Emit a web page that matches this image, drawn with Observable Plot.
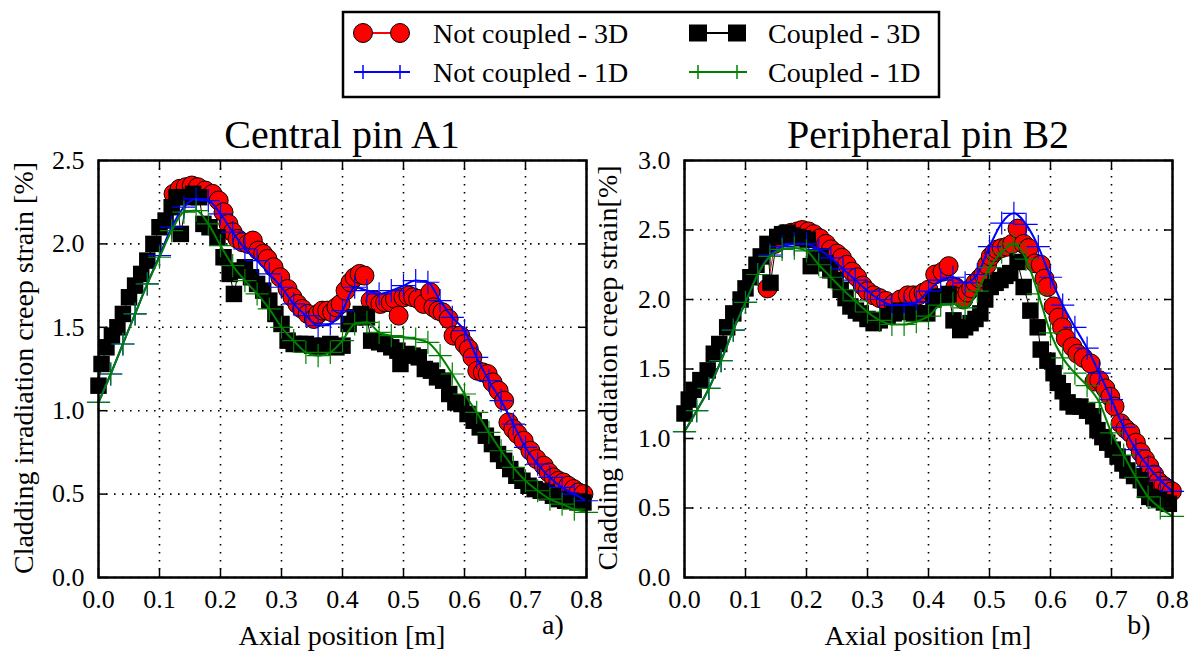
<!DOCTYPE html>
<html><head><meta charset="utf-8">
<script src="https://cdn.jsdelivr.net/npm/d3@7"></script>
<script src="https://cdn.jsdelivr.net/npm/@observablehq/plot@0.6"></script>
<style>
body{margin:0;background:#fff;}
#wrap{position:relative;width:1200px;height:655px;overflow:hidden;font-family:"Liberation Serif","Times New Roman",serif;color:#000;}
.abs{position:absolute;white-space:nowrap;line-height:1;}
</style></head><body><div id="wrap"></div>
<script>
// ---------- tick values ----------
const xTicks = [0, 0.1, 0.2, 0.3, 0.4, 0.5, 0.6, 0.7, 0.8];
const yTicksA1 = [0, 0.5, 1.0, 1.5, 2.0, 2.5];
const yTicksB2 = [0, 0.5, 1.0, 1.5, 2.0, 2.5, 3.0];

// ---------- Central pin A1 ----------
const A1_notCoupled3D = [[0.123,2.30],[0.133,2.33],[0.143,2.34],[0.153,2.35],[0.163,2.34],[0.175,2.32],[0.187,2.30],[0.197,2.26],[0.205,2.19],[0.213,2.12],[0.220,2.07],[0.228,2.03],[0.236,2.01],[0.245,2.00],[0.253,2.02],[0.262,1.96],[0.270,1.94],[0.277,1.91],[0.287,1.86],[0.298,1.80],[0.310,1.73],[0.318,1.68],[0.326,1.64],[0.334,1.61],[0.343,1.58],[0.353,1.55],[0.360,1.58],[0.367,1.60],[0.375,1.60],[0.383,1.59],[0.390,1.62],[0.397,1.64],[0.405,1.72],[0.413,1.77],[0.420,1.80],[0.428,1.82],[0.436,1.81],[0.446,1.66],[0.454,1.66],[0.462,1.64],[0.470,1.65],[0.479,1.65],[0.486,1.67],[0.492,1.57],[0.500,1.68],[0.508,1.69],[0.516,1.68],[0.524,1.67],[0.533,1.64],[0.544,1.71],[0.549,1.62],[0.557,1.60],[0.564,1.59],[0.574,1.55],[0.582,1.45],[0.593,1.45],[0.600,1.40],[0.607,1.37],[0.613,1.32],[0.621,1.24],[0.630,1.23],[0.638,1.22],[0.646,1.17],[0.656,1.12],[0.665,1.06],[0.672,0.93],[0.680,0.89],[0.687,0.86],[0.697,0.82],[0.708,0.76],[0.718,0.71],[0.730,0.67],[0.738,0.63],[0.746,0.60],[0.754,0.58],[0.762,0.57],[0.770,0.55],[0.779,0.53],[0.787,0.51],[0.795,0.50]];
const A1_notCoupled1D = [[0.00,1.05],[0.02,1.22],[0.04,1.40],[0.06,1.58],[0.08,1.76],[0.10,1.93],[0.12,2.10],[0.14,2.22],[0.16,2.27],[0.18,2.26],[0.20,2.18],[0.22,2.07],[0.24,1.97],[0.26,1.90],[0.28,1.82],[0.30,1.74],[0.32,1.64],[0.34,1.57],[0.36,1.51],[0.38,1.52],[0.40,1.60],[0.42,1.74],[0.44,1.72],[0.46,1.70],[0.48,1.72],[0.50,1.75],[0.52,1.78],[0.54,1.77],[0.56,1.66],[0.58,1.56],[0.60,1.48],[0.62,1.32],[0.64,1.18],[0.66,1.06],[0.68,0.92],[0.70,0.78],[0.72,0.68],[0.74,0.60],[0.76,0.54],[0.78,0.50],[0.80,0.46]];
const A1_coupled3D = [[0.000,1.15],[0.005,1.28],[0.013,1.38],[0.022,1.45],[0.031,1.50],[0.040,1.58],[0.050,1.68],[0.060,1.75],[0.070,1.82],[0.080,1.90],[0.090,2.00],[0.100,2.10],[0.110,2.14],[0.120,2.22],[0.128,2.28],[0.135,2.06],[0.145,2.28],[0.155,2.30],[0.165,2.28],[0.172,2.12],[0.182,2.10],[0.195,2.04],[0.205,1.92],[0.215,1.82],[0.222,1.70],[0.230,1.84],[0.240,1.86],[0.250,1.80],[0.260,1.76],[0.270,1.72],[0.280,1.66],[0.290,1.58],[0.300,1.52],[0.310,1.42],[0.320,1.40],[0.330,1.40],[0.340,1.40],[0.350,1.39],[0.360,1.38],[0.370,1.39],[0.380,1.40],[0.390,1.38],[0.400,1.39],[0.410,1.52],[0.420,1.56],[0.430,1.58],[0.440,1.56],[0.447,1.42],[0.460,1.41],[0.470,1.40],[0.480,1.38],[0.490,1.36],[0.495,1.28],[0.505,1.34],[0.515,1.33],[0.525,1.32],[0.535,1.25],[0.545,1.24],[0.555,1.20],[0.565,1.18],[0.575,1.10],[0.585,1.05],[0.595,1.04],[0.605,0.98],[0.615,0.94],[0.625,0.90],[0.635,0.85],[0.645,0.80],[0.655,0.74],[0.665,0.70],[0.675,0.65],[0.685,0.61],[0.695,0.58],[0.705,0.55],[0.715,0.53],[0.725,0.52],[0.735,0.51],[0.745,0.49],[0.755,0.47],[0.765,0.46],[0.775,0.46],[0.785,0.45],[0.795,0.45]];
const A1_coupled1D = [[0.00,1.05],[0.02,1.22],[0.04,1.40],[0.06,1.58],[0.08,1.76],[0.10,1.92],[0.12,2.08],[0.14,2.19],[0.16,2.20],[0.18,2.12],[0.20,1.99],[0.22,1.87],[0.24,1.78],[0.26,1.70],[0.28,1.61],[0.30,1.50],[0.32,1.42],[0.34,1.35],[0.36,1.33],[0.38,1.35],[0.40,1.42],[0.42,1.52],[0.44,1.53],[0.46,1.47],[0.48,1.45],[0.50,1.44],[0.52,1.43],[0.54,1.41],[0.56,1.33],[0.58,1.22],[0.60,1.10],[0.62,0.99],[0.64,0.87],[0.66,0.76],[0.68,0.66],[0.70,0.58],[0.72,0.52],[0.74,0.47],[0.76,0.44],[0.78,0.41],[0.80,0.39]];

// ---------- Peripheral pin B2 ----------
const B2_notCoupled3D = [[0.136,2.08],[0.148,2.40],[0.162,2.47],[0.175,2.48],[0.185,2.49],[0.193,2.50],[0.203,2.49],[0.212,2.47],[0.222,2.44],[0.232,2.40],[0.240,2.36],[0.250,2.33],[0.258,2.30],[0.266,2.25],[0.275,2.20],[0.283,2.16],[0.292,2.10],[0.300,2.06],[0.310,2.03],[0.320,2.01],[0.330,1.99],[0.343,1.97],[0.354,2.00],[0.366,2.03],[0.375,2.03],[0.384,2.03],[0.392,2.05],[0.400,2.07],[0.411,2.18],[0.423,2.20],[0.433,2.24],[0.444,2.09],[0.452,2.02],[0.457,2.00],[0.464,2.05],[0.470,2.08],[0.477,2.12],[0.484,2.15],[0.490,2.18],[0.496,2.25],[0.502,2.31],[0.508,2.34],[0.513,2.36],[0.520,2.37],[0.529,2.38],[0.537,2.40],[0.546,2.51],[0.556,2.40],[0.564,2.37],[0.575,2.26],[0.584,2.25],[0.590,2.15],[0.595,2.09],[0.605,1.95],[0.613,1.87],[0.619,1.80],[0.625,1.72],[0.636,1.66],[0.644,1.61],[0.654,1.58],[0.666,1.54],[0.672,1.41],[0.680,1.42],[0.690,1.36],[0.698,1.30],[0.705,1.23],[0.715,1.11],[0.723,1.07],[0.731,1.04],[0.740,0.97],[0.748,0.90],[0.755,0.85],[0.762,0.80],[0.770,0.74],[0.777,0.69],[0.785,0.66],[0.792,0.64],[0.799,0.62]];
const B2_notCoupled1D = [[0.00,1.05],[0.02,1.20],[0.04,1.36],[0.06,1.56],[0.08,1.78],[0.10,1.98],[0.12,2.18],[0.14,2.32],[0.16,2.38],[0.18,2.40],[0.20,2.40],[0.22,2.36],[0.24,2.30],[0.26,2.22],[0.28,2.14],[0.30,2.06],[0.32,2.00],[0.34,1.96],[0.36,1.96],[0.38,1.98],[0.40,2.06],[0.42,2.14],[0.44,2.16],[0.46,2.12],[0.48,2.18],[0.50,2.38],[0.52,2.55],[0.54,2.62],[0.56,2.54],[0.58,2.38],[0.60,2.16],[0.62,1.96],[0.64,1.80],[0.66,1.65],[0.68,1.47],[0.70,1.28],[0.72,1.08],[0.74,0.92],[0.76,0.80],[0.78,0.70],[0.80,0.62]];
const B2_coupled3D = [[0.000,1.18],[0.007,1.28],[0.015,1.35],[0.026,1.42],[0.038,1.49],[0.048,1.61],[0.057,1.68],[0.070,1.80],[0.080,1.90],[0.092,2.00],[0.100,2.08],[0.108,2.16],[0.118,2.25],[0.125,2.31],[0.136,2.40],[0.141,2.12],[0.152,2.45],[0.160,2.47],[0.169,2.48],[0.177,2.46],[0.185,2.45],[0.194,2.44],[0.202,2.43],[0.207,2.24],[0.215,2.30],[0.223,2.31],[0.231,2.26],[0.239,2.21],[0.248,2.14],[0.256,2.07],[0.264,2.01],[0.272,1.95],[0.281,1.92],[0.289,1.90],[0.300,1.86],[0.310,1.83],[0.320,1.85],[0.333,1.88],[0.343,1.90],[0.354,1.92],[0.365,1.91],[0.376,1.90],[0.387,1.90],[0.398,1.90],[0.408,2.00],[0.417,2.02],[0.425,2.02],[0.433,2.04],[0.441,1.85],[0.452,1.78],[0.460,1.80],[0.469,1.83],[0.477,1.86],[0.485,1.90],[0.493,2.00],[0.502,2.09],[0.510,2.12],[0.518,2.14],[0.526,2.17],[0.534,2.19],[0.546,2.27],[0.556,2.09],[0.567,1.92],[0.579,1.80],[0.584,1.64],[0.595,1.56],[0.605,1.47],[0.612,1.40],[0.620,1.34],[0.628,1.26],[0.638,1.23],[0.649,1.23],[0.660,1.20],[0.670,1.16],[0.677,1.06],[0.685,1.01],[0.693,0.97],[0.702,0.92],[0.710,0.87],[0.718,0.82],[0.726,0.77],[0.737,0.73],[0.748,0.70],[0.755,0.63],[0.762,0.58],[0.770,0.57],[0.778,0.56],[0.786,0.54],[0.794,0.53]];
const B2_coupled1D = [[0.00,1.05],[0.02,1.20],[0.04,1.36],[0.06,1.56],[0.08,1.78],[0.10,1.98],[0.12,2.18],[0.14,2.31],[0.16,2.36],[0.18,2.37],[0.20,2.35],[0.22,2.25],[0.24,2.16],[0.26,2.07],[0.28,1.99],[0.30,1.91],[0.32,1.85],[0.34,1.82],[0.36,1.82],[0.38,1.84],[0.40,1.88],[0.42,1.96],[0.44,1.97],[0.46,1.94],[0.48,2.06],[0.50,2.23],[0.52,2.34],[0.54,2.40],[0.56,2.29],[0.58,2.04],[0.60,1.76],[0.62,1.58],[0.64,1.47],[0.66,1.38],[0.68,1.26],[0.70,1.04],[0.72,0.88],[0.74,0.72],[0.76,0.58],[0.78,0.50],[0.80,0.44]];

// ---------- labels ----------
const titles = ["Central pin A1", "Peripheral pin B2"];
const xLabel = "Axial position [m]";
const yLabels = ["Cladding irradiation creep strain [%]", "Cladding irradiation creep strain[%]"];
const panelTags = ["a)", "b)"];
const legendNames = ["Not coupled - 3D", "Not coupled - 1D", "Coupled - 3D", "Coupled - 1D"];

const FONT = "'Liberation Serif','Times New Roman',serif";
const X = d => d[0], Y = d => d[1];
const fmt = d3.format(".1f");
const blank = () => "";

function panel({yDomain, yTicks, nc3d, nc1d, c3d, c1d, width, marginLeft, marginRight}) {
  const dotted = {stroke: "black", strokeOpacity: 1, strokeWidth: 1.6, strokeDasharray: "1.6,6.4"};
  return Plot.plot({
    width, height: 545, marginLeft, marginRight, marginTop: 50, marginBottom: 78,
    x: {domain: [0, 0.8], axis: null},
    y: {domain: yDomain, axis: null},
    style: {background: "transparent", fontFamily: FONT, fontSize: "26px", color: "black", overflow: "visible"},
    marks: [
      Plot.gridX(xTicks, dotted),
      Plot.gridY(yTicks, dotted),
      Plot.line(nc3d, {x: X, y: Y, stroke: "#ff0000", strokeWidth: 1}),
      Plot.dot(nc3d, {x: X, y: Y, r: 9.5, fill: "#ff0000", stroke: "black", strokeWidth: 1}),
      Plot.line(c3d, {x: X, y: Y, stroke: "black", strokeWidth: 1}),
      Plot.dot(c3d, {x: X, y: Y, r: 9.3, symbol: "square", fill: "black", stroke: "none"}),
      Plot.line(nc1d, {x: X, y: Y, stroke: "#0000ff", strokeWidth: 2, curve: "monotone-x"}),
      Plot.dot(nc1d, {x: X, y: Y, r: 7.5, symbol: "plus", stroke: "#0000ff", strokeWidth: 1.2}),
      Plot.line(c1d, {x: X, y: Y, stroke: "#008000", strokeWidth: 2, curve: "monotone-x"}),
      Plot.dot(c1d, {x: X, y: Y, r: 7.5, symbol: "plus", stroke: "#008000", strokeWidth: 1.2}),
      Plot.axisX(xTicks, {anchor: "bottom", tickSize: 0, tickPadding: 12, tickFormat: fmt, label: null, fontSize: 26}),
      Plot.axisY(yTicks, {anchor: "left", tickSize: 0, tickPadding: 14, tickFormat: fmt, label: null, fontSize: 26}),
      Plot.axisX(xTicks, {anchor: "bottom", tickSize: -9, tickFormat: blank, label: null, strokeWidth: 1.5}),
      Plot.axisX(xTicks, {anchor: "top", tickSize: -9, tickFormat: blank, label: null, strokeWidth: 1.5}),
      Plot.axisY(yTicks, {anchor: "left", tickSize: -9, tickFormat: blank, label: null, strokeWidth: 1.5}),
      Plot.axisY(yTicks, {anchor: "right", tickSize: -9, tickFormat: blank, label: null, strokeWidth: 1.5}),
      Plot.frame({stroke: "black", strokeWidth: 2.5})
    ]
  });
}

const wrap = document.getElementById("wrap");
function place(el, left, top) {
  const d = document.createElement("div");
  d.style.position = "absolute"; d.style.left = left + "px"; d.style.top = top + "px";
  d.appendChild(el); wrap.appendChild(d); return d;
}

place(panel({yDomain: [0, 2.5], yTicks: yTicksA1, nc3d: A1_notCoupled3D, nc1d: A1_notCoupled1D, c3d: A1_coupled3D, c1d: A1_coupled1D, width: 600, marginLeft: 98, marginRight: 14}), 0, 110);
place(panel({yDomain: [0, 3.0], yTicks: yTicksB2, nc3d: B2_notCoupled3D, nc1d: B2_notCoupled1D, c3d: B2_coupled3D, c1d: B2_coupled1D, width: 610, marginLeft: 94, marginRight: 28}), 590, 110);

function label(text, cx, cy, size, rotate) {
  const d = document.createElement("div");
  d.className = "abs"; d.textContent = text;
  d.style.fontSize = size + "px";
  d.style.left = cx + "px"; d.style.top = cy + "px";
  d.style.transform = "translate(-50%,-50%)" + (rotate ? " rotate(-90deg)" : "");
  wrap.appendChild(d);
}
const centers = [342, 928];
titles.forEach((t, i) => label(t, centers[i], 135, 40));
centers.forEach(c => label(xLabel, c, 636, 28));
label(yLabels[0], 24, 368, 28, true);
label(yLabels[1], 608, 368, 28, true);
label(panelTags[0], 553, 625, 28);
label(panelTags[1], 1139, 625, 28);

// ---------- legend ----------
const ns = "http://www.w3.org/2000/svg";
const lg = document.createElementNS(ns, "svg");
lg.setAttribute("width", 1200); lg.setAttribute("height", 110);
lg.style.position = "absolute"; lg.style.left = "0px"; lg.style.top = "0px";
function el(tag, attrs) { const e = document.createElementNS(ns, tag); for (const k in attrs) e.setAttribute(k, attrs[k]); lg.appendChild(e); return e; }
el("rect", {x: 343, y: 12, width: 596, height: 85, fill: "white", stroke: "black", "stroke-width": 2.5});
const rows = [33, 72], cols = [[363, 400, 433], [698, 737, 768]];
const plusPath = (cx, cy, s) => `M${cx - s},${cy}H${cx + s}M${cx},${cy - s}V${cy + s}`;
el("line", {x1: cols[0][0], x2: cols[0][1], y1: rows[0], y2: rows[0], stroke: "#ff0000", "stroke-width": 2});
[cols[0][0], cols[0][1]].forEach(cx => el("circle", {cx, cy: rows[0], r: 9.5, fill: "#ff0000", stroke: "black", "stroke-width": 1}));
el("line", {x1: cols[0][0] - 9, x2: cols[0][1] + 10, y1: rows[1], y2: rows[1], stroke: "#0000ff", "stroke-width": 2});
[cols[0][0], cols[0][1]].forEach(cx => el("path", {d: plusPath(cx, rows[1], 7), stroke: "#0000ff", "stroke-width": 1.5, fill: "none"}));
el("line", {x1: cols[1][0], x2: cols[1][1], y1: rows[0], y2: rows[0], stroke: "black", "stroke-width": 2});
[cols[1][0], cols[1][1]].forEach(cx => el("rect", {x: cx - 9, y: rows[0] - 8.5, width: 18, height: 17, fill: "black"}));
el("line", {x1: cols[1][0] - 9, x2: cols[1][1] + 10, y1: rows[1], y2: rows[1], stroke: "#008000", "stroke-width": 2});
[cols[1][0], cols[1][1]].forEach(cx => el("path", {d: plusPath(cx, rows[1], 7), stroke: "#008000", "stroke-width": 1.5, fill: "none"}));
const textPos = [[cols[0][2], rows[0]], [cols[0][2], rows[1]], [cols[1][2], rows[0]], [cols[1][2], rows[1]]];
legendNames.forEach((n, i) => {
  const t = el("text", {x: textPos[i][0], y: textPos[i][1], "dominant-baseline": "central", "font-size": 28, "font-family": FONT, fill: "black"});
  t.textContent = n;
});
wrap.appendChild(lg);
</script>
</body></html>
